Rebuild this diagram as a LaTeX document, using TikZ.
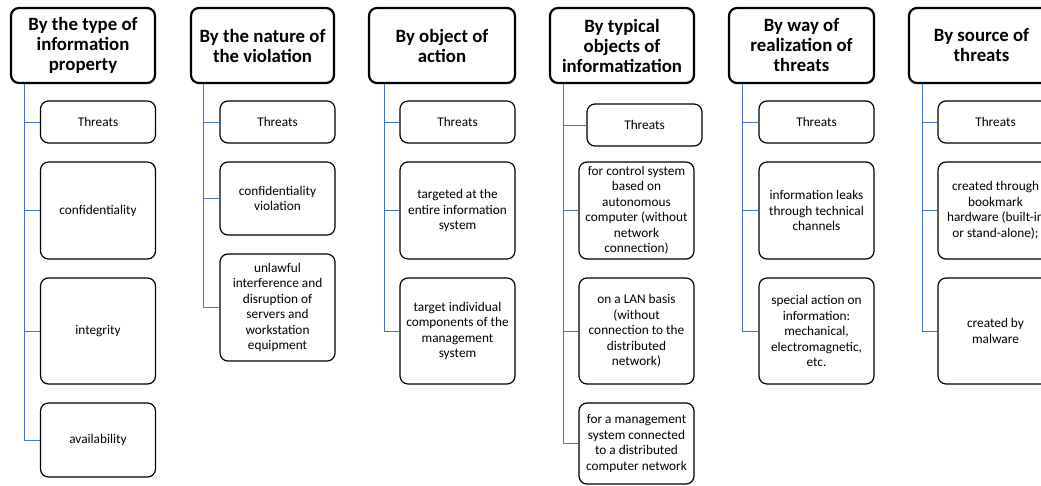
\documentclass[tikz,border=0pt]{standalone}
\usepackage{fontspec}
\setmainfont{Carlito}
\definecolor{linkblue}{RGB}{68,114,196}
\begin{document}
\begin{tikzpicture}[x=1pt,y=-1pt,
  head/.style={draw=black, line width=2.2pt, rounded corners=8pt, fill=white,
    align=center, inner sep=2pt, font=\fontsize{18.8}{20}\selectfont\bfseries,
    minimum height=75pt},
  child/.style={draw=black, line width=1.2pt, rounded corners=8pt, fill=white,
    align=center, inner sep=2pt, font=\fontsize{13.3}{15.5}\selectfont,
    minimum width=115pt},
  conn/.style={draw=linkblue, line width=0.9pt}]
\useasboundingbox (0,0) rectangle (1041,485);
\clip (0,0) rectangle (1041,485);
% column 1
\node[head, minimum width=144pt] (h1) at (83,45.5) {By the type of\\information\\property};
\node[child, minimum height=42pt] (c1a) at (98,122) {Threats};
\node[child, minimum height=97pt] (c1b) at (98,210.5) {confidentiality};
\node[child, minimum height=106pt] (c1c) at (98,331) {integrity};
\node[child, minimum height=74pt] (c1d) at (98,440) {availability};
\foreach \c in {c1a,c1b,c1c,c1d} \draw[conn] ([xshift=15pt]h1.south west) |- (\c.west);
% column 2
\node[head, minimum width=143pt] (h2) at (262.5,45.5) {By the nature of\\the violation};
\node[child, minimum height=42pt] (c2a) at (277.5,122) {Threats};
\node[child, minimum height=73pt] (c2b) at (277.5,198.5) {confidentiality\\violation};
\node[child, minimum height=107pt] (c2c) at (277.5,307.5) {unlawful\\interference and\\disruption of\\servers and\\workstation\\equipment};
\foreach \c in {c2a,c2b,c2c} \draw[conn] ([xshift=14pt]h2.south west) |- (\c.west);
% column 3
\node[head, minimum width=146pt] (h3) at (442,45.5) {By object of\\action};
\node[child, minimum height=42pt] (c3a) at (457.5,122) {Threats};
\node[child, minimum height=97pt] (c3b) at (457.5,210.5) {targeted at the\\entire information\\system};
\node[child, minimum height=106pt] (c3c) at (457.5,331) {target individual\\components of the\\management\\system};
\foreach \c in {c3a,c3b,c3c} \draw[conn] ([xshift=17pt]h3.south west) |- (\c.west);
% column 4
\node[head, minimum width=144pt] (h4) at (622,45.5) {By typical\\objects of\\informatization};
\node[child, minimum height=42pt] (c4a) at (644.5,125) {Threats};
\node[child, minimum height=97pt] (c4b) at (636.5,210.5) {for control system\\based on\\autonomous\\computer (without\\network\\connection)};
\node[child, minimum height=106pt] (c4c) at (636.5,331) {on a LAN basis\\(without\\connection to the\\distributed\\network)};
\node[child, minimum height=81pt] (c4d) at (636.5,443.5) {for a management\\system connected\\to a distributed\\computer network};
\foreach \c in {c4a,c4b,c4c,c4d} \draw[conn] ([xshift=15pt]h4.south west) |- (\c.west);
% column 5
\node[head, minimum width=145pt] (h5) at (801.5,45.5) {By way of\\realization of\\threats};
\node[child, minimum height=42pt] (c5a) at (816.5,122) {Threats};
\node[child, minimum height=97pt] (c5b) at (816.5,210.5) {information leaks\\through technical\\channels};
\node[child, minimum height=106pt] (c5c) at (816.5,331) {special action on\\information:\\mechanical,\\electromagnetic,\\etc.};
\foreach \c in {c5a,c5b,c5c} \draw[conn] ([xshift=15pt]h5.south west) |- (\c.west);
% column 6
\node[head, minimum width=145pt] (h6) at (981.5,45.5) {By source of\\threats};
\node[child, minimum height=42pt] (c6a) at (995.5,122) {Threats};
\node[child, minimum height=97pt] (c6b) at (995.5,210.5) {created through\\bookmark\\hardware (built-in\\or stand-alone);};
\node[child, minimum height=106pt] (c6c) at (995.5,331) {created by\\malware};
\foreach \c in {c6a,c6b,c6c} \draw[conn] ([xshift=15pt]h6.south west) |- (\c.west);
\end{tikzpicture}
\end{document}
